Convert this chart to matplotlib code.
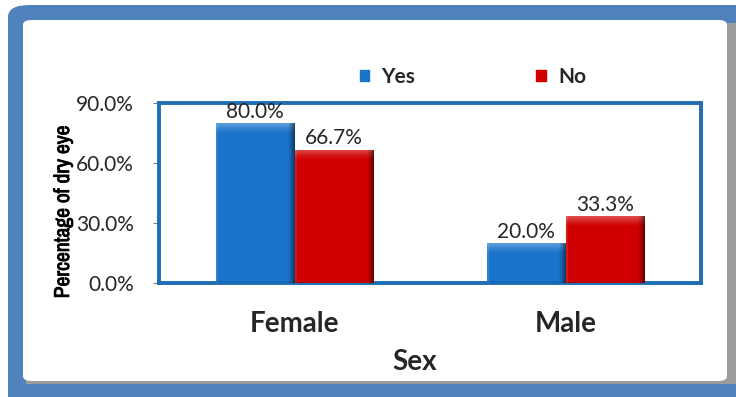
"""Dry eye percentage by sex, grouped bar chart with bevelled bars."""
import matplotlib
matplotlib.use("Agg")
import matplotlib.pyplot as plt
import matplotlib.patches as mpatches
import matplotlib.patheffects as pe
import matplotlib.font_manager as fm
import numpy as np
from matplotlib.ticker import FuncFormatter, MultipleLocator

plt.rcParams["font.family"] = ["Lato", "DejaVu Sans"]

# narrow face for the y-axis title, if one is installed
NARROW = None
for _f in fm.fontManager.ttflist:
    if "Narrow" in _f.name or "Condensed" in _f.name:
        NARROW = _f.name
        break

# ── data ─────────────────────────────────────────────────────────────────────
categories = ["Female", "Male"]
series_names = ["Yes", "No"]
yes_values = [80.0, 20.0]
no_values = [66.7, 33.3]

BLUE = "#1a74cc"
RED = "#d00000"
FRAME = "#4f81bd"
AXES_EDGE = "#1f6db3"
TEXT = "#262626"


def _mix(c, other, t):
    return c * (1 - t) + other * t


def bevel(ax, patch, color):
    """Overlay a small bevel gradient (light top, dark right edge) on a bar."""
    bb = patch.get_window_extent()
    w, h = int(round(bb.width)), int(round(bb.height))
    if w < 2 or h < 2:
        return
    base = np.array(matplotlib.colors.to_rgb(color))
    white = np.ones(3)
    black = np.zeros(3)
    img = np.tile(base, (h, w, 1))
    top = min(10, h // 2)
    for i in range(top):
        img[i, :] = _mix(base, white, 0.30 * (1 - i / top) ** 1.3)
    img[:, :2] = _mix(img[:, :2], white, 0.10)
    edge = 7
    for k in range(edge):
        j = w - edge + k
        img[:, j] = _mix(img[:, j], black, 0.05 + 0.55 * (k / edge) ** 1.3)
    img[-2:, :] = _mix(img[-2:, :], black, 0.10)
    x0, y0 = patch.get_x(), patch.get_y()
    x1, y1 = x0 + patch.get_width(), y0 + patch.get_height()
    im = ax.imshow(img, extent=[x0, x1, y0, y1], origin="upper",
                   aspect="auto", interpolation="bilinear", zorder=3)
    im.set_clip_path(patch)


fig = plt.figure(figsize=(7.36, 3.97), dpi=100)
fig.patch.set_facecolor("white")

# ── outer frame: blue border, grey drop shadow, white panel ─────────────────
W, H = 736.0, 397.0
fig.patches.append(mpatches.FancyBboxPatch(
    (8 / W, -0.05), 1.1, 1.05 - 5 / H,
    boxstyle="round,pad=0,rounding_size=0.03",
    transform=fig.transFigure, facecolor=FRAME, edgecolor="none", zorder=0))
fig.patches.append(mpatches.Rectangle(
    (26 / W, 1 - 384 / H), (736 - 26) / W, (384 - 23) / H,
    transform=fig.transFigure, facecolor="#9c9c9c", edgecolor="none", zorder=1))
fig.patches.append(mpatches.FancyBboxPatch(
    (23 / W, 1 - 381 / H), (727 - 23) / W, (381 - 20) / H,
    boxstyle="round,pad=0,rounding_size=0.012",
    transform=fig.transFigure, facecolor="white", edgecolor="none", zorder=2))

ax = fig.add_axes([159 / W, 1 - 283 / H, (701 - 159) / W, (283 - 103) / H])
ax.set_facecolor("white")
ax.set_zorder(3)

x = np.arange(len(categories))
bar_w = 0.29
bars_yes = ax.bar(x - bar_w / 2, yes_values, bar_w, color=BLUE, linewidth=0, zorder=2)
bars_no = ax.bar(x + bar_w / 2, no_values, bar_w, color=RED, linewidth=0, zorder=2)

ax.set_xlim(-0.5, len(categories) - 0.5)
ax.set_ylim(0, 90)

for p in bars_yes:
    bevel(ax, p, BLUE)
for p in bars_no:
    bevel(ax, p, RED)

for bars, vals in ((bars_yes, yes_values), (bars_no, no_values)):
    for p, v in zip(bars, vals):
        ax.annotate(f"{v:.1f}%", (p.get_x() + p.get_width() / 2, v),
                    xytext=(0, 1), textcoords="offset points",
                    ha="center", va="bottom", fontsize=15, color=TEXT, zorder=5)

ax.yaxis.set_major_locator(MultipleLocator(30))
ax.yaxis.set_major_formatter(FuncFormatter(lambda y, _: f"{y:.1f}%"))
ax.tick_params(axis="y", length=4, width=0.8, color="#808080", pad=14,
               labelsize=15, labelcolor=TEXT)
ax.set_xticks(x)
ax.set_xticklabels(categories, fontsize=20, fontweight="bold", color=TEXT)
ax.tick_params(axis="x", length=0, pad=20)

for s in ax.spines.values():
    s.set_color(AXES_EDGE)
    s.set_linewidth(2.8)

ax.set_xlabel("Sex", fontsize=20, fontweight="bold", color=TEXT, va="center")
ax.xaxis.set_label_coords((415 - 159) / 542, (283 - 362) / 180)
if NARROW:
    # the narrow face has no bold file here, so thicken it with a stroke
    ylab = ax.set_ylabel("Percentage of dry eye", fontsize=15.5, fontweight="bold",
                         color="black", family=[NARROW, "DejaVu Sans"], va="center")
    ylab.set_path_effects([pe.withStroke(linewidth=0.6, foreground="black")])
else:
    ax.set_ylabel("Percentage of dry eye", fontsize=11, fontweight="bold",
                  color="black", va="center")
ax.yaxis.set_label_coords((63 - 159) / 542, (283 - 212) / 180)

handles = [mpatches.Patch(color=BLUE, label=series_names[0]),
           mpatches.Patch(color=RED, label=series_names[1])]
leg = fig.legend(handles=handles, loc="center", bbox_to_anchor=(473 / W, 1 - 77 / H),
                 ncol=2, frameon=False, prop={"size": 15, "weight": "bold"},
                 handlelength=0.45, handleheight=0.45, handletextpad=0.6,
                 columnspacing=5.8)
for t in leg.get_texts():
    t.set_color(TEXT)
leg.set_zorder(6)

fig.savefig("out.png", dpi=100)
plt.close(fig)
